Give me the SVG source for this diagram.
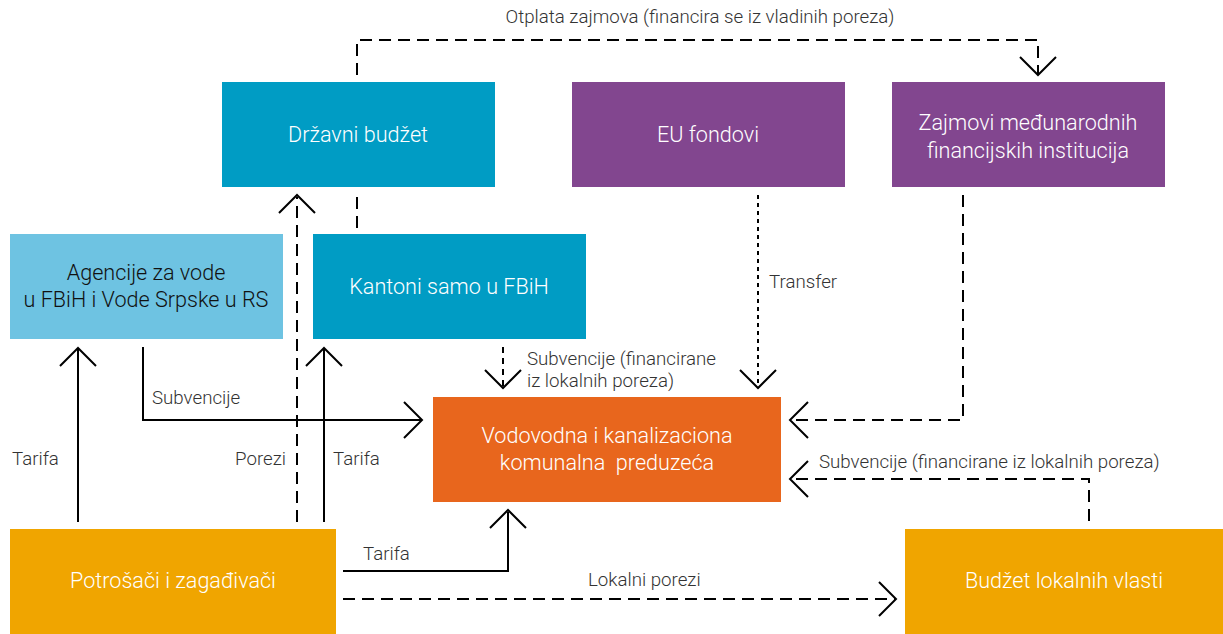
<svg xmlns="http://www.w3.org/2000/svg" width="1223" height="634" viewBox="0 0 1223 634">
<style>
.node text{font-family:Roboto,"Liberation Sans",sans-serif;font-weight:300;font-size:21.6px;fill:#fff;text-anchor:middle;white-space:pre}
.lbl{font-family:Roboto,"Liberation Sans",sans-serif;font-weight:300;font-size:18.7px;fill:#333}
.c{fill:none;stroke:#000;stroke-width:2}
.d{stroke-dasharray:12 7}
.dt{stroke-dasharray:4 4}
.ah{fill:none;stroke:#000;stroke-width:2}
</style>
<rect width="1223" height="634" fill="#fff"/>
<g id="drzavni-budzet" class="node"><rect x="222" y="82" width="273" height="105" fill="#009CC4"/><text x="358" y="142">Državni budžet</text></g>
<g id="eu-fondovi" class="node"><rect x="572" y="82" width="273" height="105" fill="#82468F"/><text x="708" y="142">EU fondovi</text></g>
<g id="zajmovi" class="node"><rect x="892" y="82" width="273" height="105" fill="#82468F"/><text x="1028" y="130">Zajmovi međunarodnih</text><text x="1028" y="158">financijskih institucija</text></g>
<g id="agencije" class="node"><rect x="10" y="234" width="273" height="105" fill="#6EC3E2"/><text x="146" y="280" style="fill:#111">Agencije za vode</text><text x="146" y="307" style="fill:#111">u FBiH i Vode Srpske u RS</text></g>
<g id="kantoni" class="node"><rect x="313" y="234" width="273" height="105" fill="#009CC4"/><text x="449" y="294">Kantoni samo u FBiH</text></g>
<g id="vodovodna" class="node"><rect x="433" y="397" width="348" height="105" fill="#E8661D"/><text x="607" y="443">Vodovodna i kanalizaciona</text><text x="607" y="470" xml:space="preserve">komunalna  preduzeća</text></g>
<g id="potrosaci" class="node"><rect x="10" y="529" width="326" height="105" fill="#F0A500"/><text x="173" y="588">Potrošači i zagađivači</text></g>
<g id="budzet-lokalnih" class="node"><rect x="905" y="529" width="318" height="105" fill="#F0A500"/><text x="1064" y="588">Budžet lokalnih vlasti</text></g>
<g id="connectors">
<path class="c d" d="M357 75V40H1038V74"/>
<path class="ah" d="M1020 57L1038 75L1056 57"/>
<path class="c d" d="M357 197V230"/>
<path class="c d" d="M297 522V197"/>
<path class="ah" d="M279 213L297 195L315 213"/>
<path class="c" d="M78 522V348"/>
<path class="ah" d="M60 366L78 348L96 366"/>
<path class="c" d="M324 522V348"/>
<path class="ah" d="M306 366L324 348L342 366"/>
<path class="c" d="M143 347V420H422"/>
<path class="ah" d="M404 402L422 420L404 438"/>
<path class="c" d="M503 347V387" stroke-dasharray="6 5"/>
<path class="ah" d="M485 370L503 388L521 370"/>
<path class="c dt" d="M758 195V387"/>
<path class="ah" d="M740 370L758 388L776 370"/>
<path class="c d" d="M963 195V420H791"/>
<path class="ah" d="M808 402L790 420L808 438"/>
<path class="c d" d="M1089 521V479H791"/>
<path class="ah" d="M808 461L790 479L808 497"/>
<path class="c" d="M343 571H508V512"/>
<path class="ah" d="M490 528L508 510L526 528"/>
<path class="c d" d="M343 599H895"/>
<path class="ah" d="M879 582L896 599L879 616"/>
</g>
<g id="labels">
<text class="lbl" x="700" y="23" text-anchor="middle">Otplata zajmova (financira se iz vladinih poreza)</text>
<text class="lbl" x="527" y="365">Subvencije (financirane</text>
<text class="lbl" x="527" y="387">iz lokalnih poreza)</text>
<text class="lbl" x="769" y="288">Transfer</text>
<text class="lbl" x="152" y="404">Subvencije</text>
<text class="lbl" x="12" y="465">Tarifa</text>
<text class="lbl" x="286" y="465" text-anchor="end">Porezi</text>
<text class="lbl" x="333" y="465">Tarifa</text>
<text class="lbl" x="819" y="468">Subvencije (financirane iz lokalnih poreza)</text>
<text class="lbl" x="363" y="560">Tarifa</text>
<text class="lbl" x="588" y="586">Lokalni porezi</text>
</g>
</svg>
